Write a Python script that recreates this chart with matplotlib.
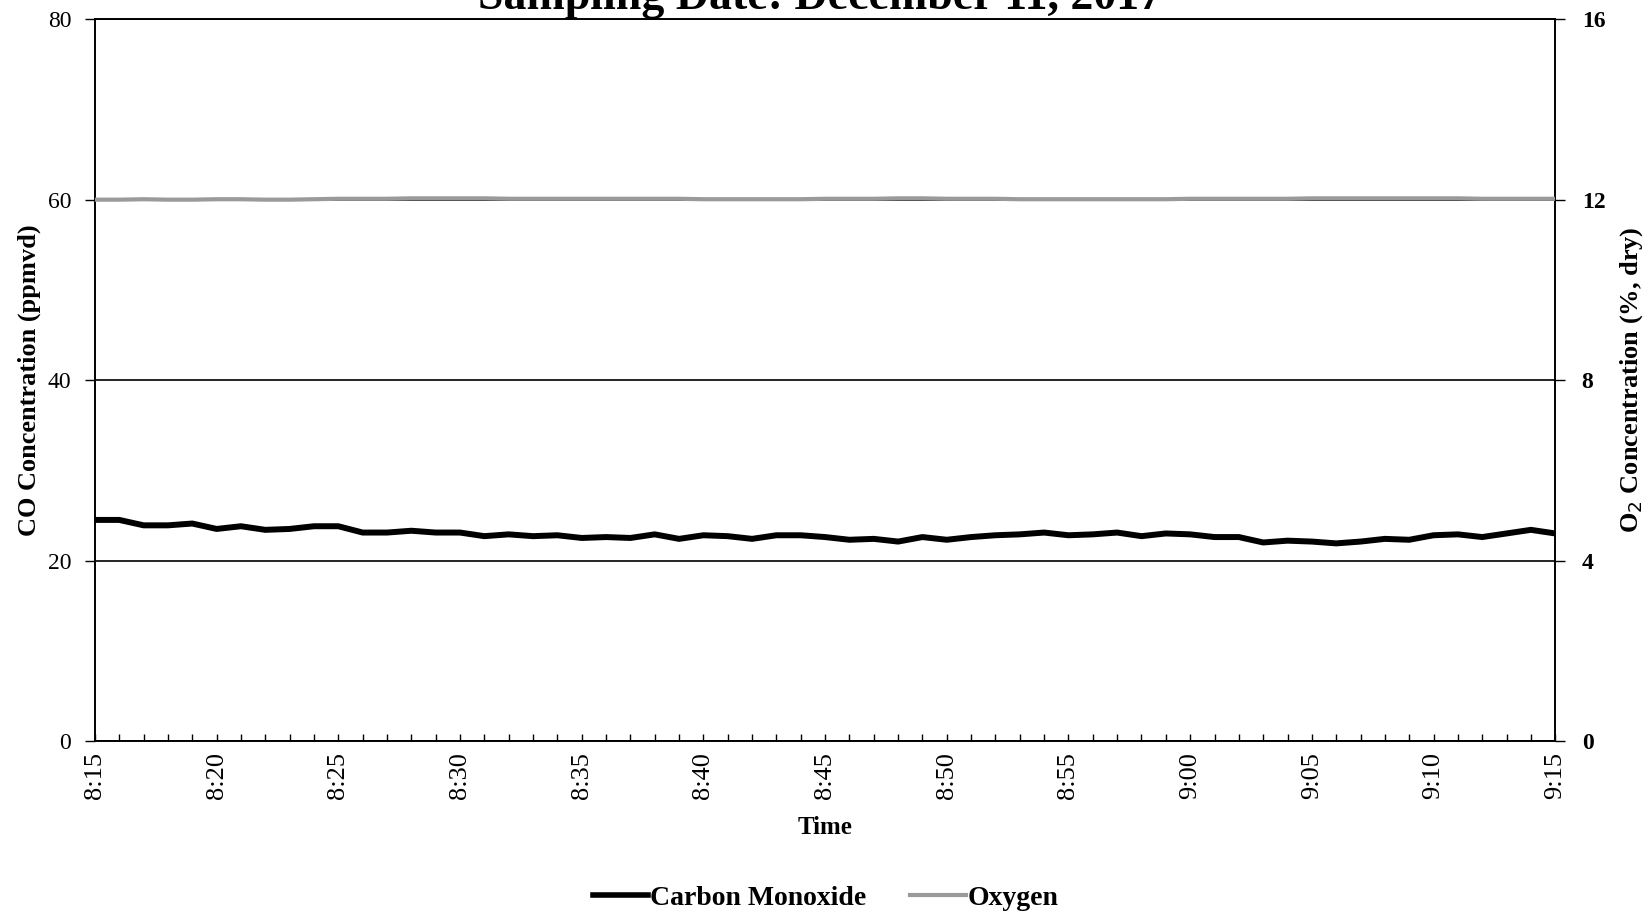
import matplotlib.pyplot as plt
from matplotlib.ticker import MultipleLocator, FuncFormatter
from matplotlib.lines import Line2D

plt.rcParams['font.family'] = ['Liberation Serif', 'DejaVu Serif']

# One reading per minute, 8:15 through 9:15
minutes = list(range(0, 61))

# Carbon monoxide, ppmvd
co_ppm = [24.5, 24.5, 23.9, 23.9, 24.1, 23.5, 23.8, 23.4, 23.5, 23.8,
          23.8, 23.1, 23.1, 23.3, 23.1, 23.1, 22.7, 22.9, 22.7, 22.8,
          22.5, 22.6, 22.5, 22.9, 22.4, 22.8, 22.7, 22.4, 22.8, 22.8,
          22.6, 22.3, 22.4, 22.1, 22.6, 22.3, 22.6, 22.8, 22.9, 23.1,
          22.8, 22.9, 23.1, 22.7, 23.0, 22.9, 22.6, 22.6, 22.0, 22.2,
          22.1, 21.9, 22.1, 22.4, 22.3, 22.8, 22.9, 22.6, 23.0, 23.4,
          23.0]

# Oxygen, % dry
o2_pct = [12.00, 12.00, 12.01, 12.00, 12.00, 12.01, 12.01, 12.00, 12.00, 12.01,
          12.02, 12.02, 12.02, 12.03, 12.03, 12.03, 12.03, 12.02, 12.02, 12.02,
          12.02, 12.02, 12.02, 12.02, 12.02, 12.01, 12.01, 12.01, 12.01, 12.01,
          12.02, 12.02, 12.02, 12.03, 12.03, 12.02, 12.02, 12.02, 12.01, 12.01,
          12.01, 12.01, 12.01, 12.01, 12.01, 12.02, 12.02, 12.02, 12.02, 12.02,
          12.03, 12.03, 12.03, 12.03, 12.03, 12.03, 12.03, 12.02, 12.02, 12.02,
          12.02]

co_ticks = [0, 20, 40, 60, 80]
o2_ticks = [0, 4, 8, 12, 16]


def clock(x, pos):
    total = 8 * 60 + 15 + int(round(x))
    return f"{total // 60}:{total % 60:02d}"


fig = plt.figure(figsize=(16.51, 9.17), dpi=100)
ax = fig.add_axes([0.0575, 0.192, 0.8845, 0.787])
ax2 = ax.twinx()

ax.plot(minutes, co_ppm, color='black', lw=4.3, solid_capstyle='round',
        solid_joinstyle='round', zorder=3)
ax2.plot(minutes, o2_pct, color='#9a9a9a', lw=3.0, zorder=3)

ax.set_xlim(0, 60)
ax.set_ylim(0, 80)
ax2.set_ylim(0, 16)
ax.set_yticks(co_ticks)
ax2.set_yticks(o2_ticks)

ax.xaxis.set_major_locator(MultipleLocator(5))
ax.xaxis.set_minor_locator(MultipleLocator(1))
ax.xaxis.set_major_formatter(FuncFormatter(clock))
ax.tick_params(axis='x', which='both', direction='in', length=5, width=1,
               labelsize=19, labelrotation=90, pad=8)
ax.tick_params(axis='y', direction='out', length=7, width=1, labelsize=17, pad=10)
ax2.tick_params(axis='y', direction='out', length=7, width=1, labelsize=17, pad=12)
for lab in ax2.get_yticklabels():
    lab.set_fontweight('bold')

ax.grid(axis='y', color='black', lw=1.2)
ax.set_axisbelow(True)
for sp in ax.spines.values():
    sp.set_linewidth(1.2)
for sp in ax2.spines.values():
    sp.set_linewidth(1.2)

ax.set_xlabel('Time', fontsize=18, fontweight='bold', labelpad=12)
ax.set_ylabel('CO Concentration (ppmvd)', fontsize=19, fontweight='bold', labelpad=5)
ax2.set_ylabel('O$_2$ Concentration (%, dry)', fontsize=19, fontweight='bold',
               labelpad=9, rotation=90)

fig.text(0.497, 1 - 9 / 917, 'Sampling Date: December 11, 2017',
         ha='center', va='baseline', fontsize=33, fontweight='bold')

handles = [Line2D([], [], color='black', lw=4),
           Line2D([], [], color='#9a9a9a', lw=3)]
fig.legend(handles, ['Carbon Monoxide', 'Oxygen'], loc='center',
           bbox_to_anchor=(0.5, 1 - 898 / 917), ncol=2, frameon=False,
           prop={'size': 20, 'weight': 'bold'}, handlelength=2.0,
           handletextpad=0.05, columnspacing=1.6)

fig.savefig('out.png', dpi=100)
